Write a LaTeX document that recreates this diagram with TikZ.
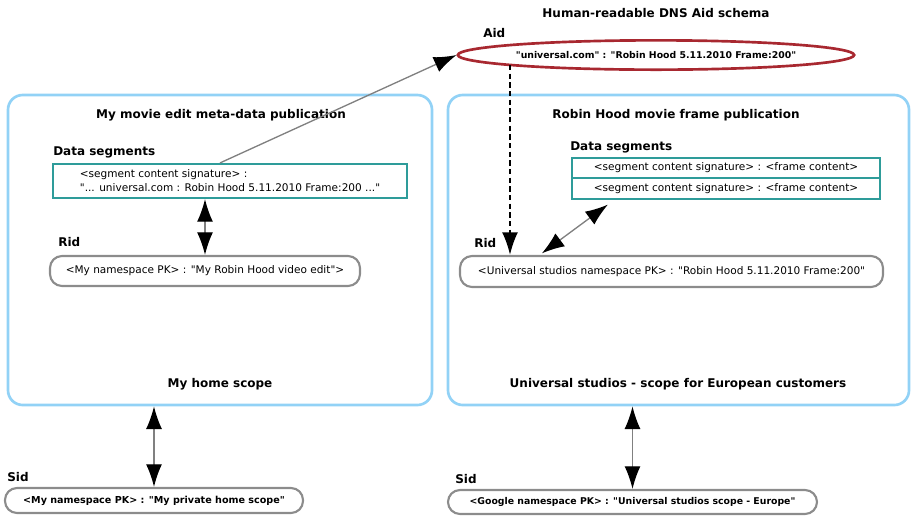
\documentclass[tikz,border=0pt]{standalone}
\usepackage{fontspec}
\setmainfont{DejaVu Sans}[Ligatures=TeXOff]
\usetikzlibrary{shapes.geometric,arrows.meta,positioning,calc}
\definecolor{scopeblue}{HTML}{92D2F6}
\definecolor{aidred}{HTML}{A82830}
\definecolor{segteal}{HTML}{2E9C9A}
\definecolor{idgray}{HTML}{8C8C8C}

\begin{document}
\begin{tikzpicture}[x=0.75pt, y=-0.75pt,
  >={Latex[length=17pt,width=12pt,color=black]},
  pubbox/.style={rectangle, draw=scopeblue, line width=2pt, rounded corners=11pt, minimum width=#1, minimum height=232.5pt},
  segbox/.style={rectangle, draw=segteal, line width=1.6pt, font=\fontsize{7.9}{10.5}\selectfont, align=left, inner sep=0pt, minimum width=#1},
  idbox/.style={rectangle, draw=idgray, line width=1.6pt, rounded corners=9pt, inner sep=0pt, font=\fontsize{7.9}{9}\selectfont, minimum width=#1},
  lbl/.style={font=\bfseries\fontsize{9}{10}\selectfont, anchor=west, inner sep=0pt},
  ttl/.style={font=\bfseries\fontsize{9}{10}\selectfont, inner sep=0pt},
  arr/.style={<->, draw=gray, line width=1pt}
]
  \useasboundingbox (0,0) rectangle (911,519);

  \node[ttl] (dnstitle) at (656,13) {Human-readable DNS Aid schema};
  \node[lbl] (aidlbl) at (483,33) {Aid};
  \node[ellipse, draw=aidred, line width=2pt, minimum width=283.5pt, minimum height=22pt, inner sep=0pt,
    font=\bfseries\fontsize{7}{8}\selectfont] (aid) at (656,55) {"universal.com" : "Robin Hood 5.11.2010 Frame:200"};
  \coordinate (aidfoot) at ($(aid.center)+(-146,10)$);

  \node[pubbox=318pt] (pub1) at (220,250) {};
  \node[pubbox=345.75pt] (pub2) at (678.5,250) {};

  \node[ttl] (pub1title) at (221,115) {My movie edit meta-data publication};
  \node[lbl] (seg1lbl) at (53,152) {Data segments};
  \node[segbox=265.5pt, minimum height=25.5pt] (seg1) at (230,181) {\textless segment content signature\textgreater{} :\\"... universal.com : Robin Hood 5.11.2010 Frame:200 ..."};
  \node[lbl] (rid1lbl) at (58,242) {Rid};
  \node[idbox=232.5pt, minimum height=22.5pt] (rid1) at (205,271) {\textless My namespace PK\textgreater{} : "My Robin Hood video edit"\textgreater};
  \node[ttl] (home) at (220,384) {My home scope};

  \node[ttl] (pub2title) at (676,115) {Robin Hood movie frame publication};
  \node[lbl] (seg2lbl) at (570,147) {Data segments};
  \node[segbox=231pt, minimum height=15.4pt] (seg2a) at (726,168) {\textless segment content signature\textgreater{} : \textless frame content\textgreater};
  \node[segbox=231pt, minimum height=15.4pt] (seg2b) at (726,188.5) {\textless segment content signature\textgreater{} : \textless frame content\textgreater};
  \node[lbl] (rid2lbl) at (474,243) {Rid};
  \node[idbox=317.25pt, minimum height=23.25pt] (rid2) at (671.5,271.5) {\textless Universal studios namespace PK\textgreater{} : "Robin Hood 5.11.2010 Frame:200"};
  \node[ttl] (european) at (678,384) {Universal studios - scope for European customers};

  \node[lbl] (sid1lbl) at (7,477) {Sid};
  \node[idbox=223.5pt, minimum height=18.75pt, font=\bfseries\fontsize{7.2}{8}\selectfont] (sid1) at (154,500.5) {\textless My namespace PK\textgreater{} : "My private home scope"};
  \node[lbl] (sid2lbl) at (455,479) {Sid};
  \node[idbox=276.75pt, minimum height=18pt, font=\bfseries\fontsize{7}{8}\selectfont] (sid2) at (632.5,502) {\textless Google namespace PK\textgreater{} : "Universal studios scope - Europe"};

  \draw[->, draw=gray, line width=1pt] ($(seg1.north)+(-10,0)$) -- (aid.west);
  \draw[->, black, line width=1.5pt, dash pattern=on 4pt off 2.5pt] (aidfoot) -- (aidfoot |- rid2.north);
  \draw[arr] (seg1.south -| rid1.north) -- (rid1.north);
  \draw[arr, shorten <=2pt, shorten >=6pt] ($(rid2.north west)!0.19!(rid2.north east)$) -- ($(seg2b.south west)!0.14!(seg2b.south east)$);
  \draw[arr] (sid1.north |- pub1.south) -- (sid1.north);
  \draw[arr] (sid2.north |- pub2.south) -- (sid2.north);
\end{tikzpicture}
\end{document}
